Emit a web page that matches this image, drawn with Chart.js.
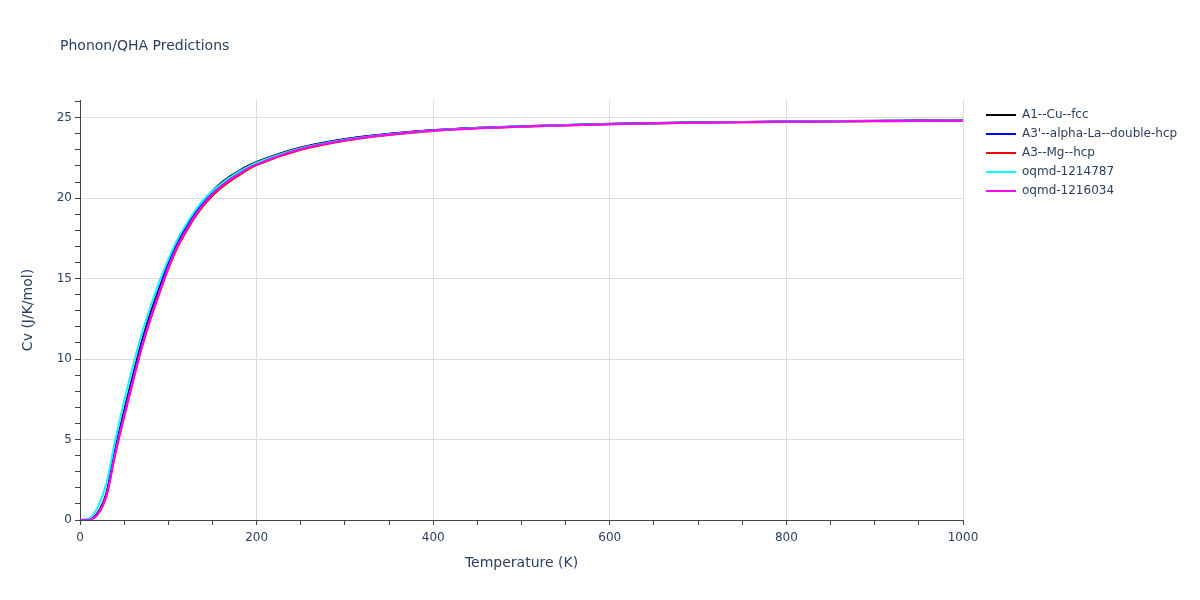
<!DOCTYPE html>
<html>
<head>
<meta charset="utf-8">
<script src="https://cdn.jsdelivr.net/npm/chart.js@4.4.1/dist/chart.umd.min.js"></script>
<style>
  body { margin: 0; background: #fff; }
  #wrap { position: relative; width: 1200px; height: 600px; font-family: "DejaVu Sans", Verdana, sans-serif; color: #2a3f5f; }
  #title { position: absolute; left: 60px; top: 36px; font-size: 14px; line-height: 18px; }
  #legend { position: absolute; left: 986px; top: 105px; font-size: 12px; }
  .item { height: 19px; line-height: 19px; display: flex; align-items: center; }
  .swatch { width: 30px; height: 2px; margin-right: 6px; }
</style>
</head>
<body>
<div id="wrap">
  <canvas id="chart" width="1200" height="600"></canvas>
  <div id="title">Phonon/QHA Predictions</div>
  <div id="legend"></div>
</div>
<script>
var temps = [0, 10, 20, 30, 40, 50, 60, 70, 80, 90, 100, 110, 120, 130, 140, 150, 160, 170, 180, 190, 200,
    250, 300, 350, 400, 450, 500, 550, 600, 650, 700, 750, 800, 850, 900, 950, 1000];

var names = ['A1--Cu--fcc', "A3'--alpha-La--double-hcp", 'A3--Mg--hcp', 'oqmd-1214787', 'oqmd-1216034'];
var colors = ['#000000', '#0000ff', '#ff0000', '#00ffff', '#ff00ff'];

var cuFcc = [0, 0.03, 0.45, 1.7, 4.4, 6.8, 9.0, 11.1, 12.9, 14.45, 15.95, 17.2, 18.2, 19.1, 19.85, 20.45, 20.95, 21.35, 21.7, 22.0, 22.25,
    23.15, 23.68, 24.0, 24.23, 24.37, 24.47, 24.55, 24.62, 24.67, 24.71, 24.74, 24.77, 24.79, 24.81, 24.82, 24.84];
var laDhcp = [0, 0.02, 0.4, 1.6, 4.3, 6.65, 8.85, 10.95, 12.75, 14.35, 15.85, 17.1, 18.1, 19.0, 19.75, 20.35, 20.85, 21.25, 21.6, 21.92, 22.18,
    23.1, 23.65, 23.98, 24.22, 24.36, 24.46, 24.54, 24.61, 24.66, 24.7, 24.73, 24.76, 24.78, 24.8, 24.82, 24.83];
var mgHcp = [0, 0.02, 0.35, 1.5, 4.1, 6.4, 8.6, 10.7, 12.5, 14.1, 15.6, 16.9, 17.9, 18.8, 19.55, 20.15, 20.65, 21.05, 21.42, 21.78, 22.05,
    23.0, 23.57, 23.93, 24.18, 24.34, 24.44, 24.52, 24.59, 24.64, 24.68, 24.71, 24.74, 24.76, 24.78, 24.8, 24.81];
var oqmd1214787 = [0, 0.08, 0.8, 2.3, 5.0, 7.4, 9.6, 11.6, 13.3, 14.85, 16.2, 17.4, 18.35, 19.2, 19.9, 20.45, 20.9, 21.3, 21.65, 21.95, 22.2,
    23.1, 23.63, 23.97, 24.21, 24.36, 24.46, 24.54, 24.61, 24.66, 24.7, 24.73, 24.76, 24.78, 24.8, 24.81, 24.83];
var oqmd1216034 = [0, 0.02, 0.37, 1.55, 4.2, 6.5, 8.7, 10.8, 12.6, 14.2, 15.7, 17.0, 18.0, 18.9, 19.65, 20.25, 20.75, 21.15, 21.5, 21.85, 22.1,
    23.05, 23.6, 23.95, 24.2, 24.35, 24.45, 24.53, 24.6, 24.65, 24.69, 24.72, 24.75, 24.77, 24.79, 24.81, 24.82];

var series = [cuFcc, laDhcp, mgHcp, oqmd1214787, oqmd1216034];

var font = "'DejaVu Sans', Verdana, sans-serif";
var textColor = '#2a3f5f';

var datasets = series.map(function(vals, i) {
    return {
        label: names[i],
        data: vals.map(function(v, j) { return { x: temps[j], y: v }; }),
        borderColor: colors[i],
        backgroundColor: colors[i],
        borderWidth: 2,
        pointRadius: 0,
        cubicInterpolationMode: 'monotone',
        fill: false,
        order: series.length - i   // last trace on top, like the original
    };
});

new Chart(document.getElementById('chart'), {
    type: 'line',
    data: { datasets: datasets },
    options: {
        responsive: false,
        animation: false,
        layout: { padding: { left: 0, top: 100, right: 237, bottom: 0 } },
        plugins: { legend: { display: false }, tooltip: { enabled: false } },
        scales: {
            x: {
                type: 'linear',
                min: 0,
                max: 1000,
                afterFit: function(s) { s.height = 80; },
                border: { color: '#444', width: 1 },
                grid: {
                    color: function(c) { return c.tick && c.tick.value % 200 === 0 && c.tick.value > 0 ? '#dcdcdc' : 'rgba(0,0,0,0)'; },
                    tickColor: '#444',
                    tickLength: 5
                },
                ticks: {
                    stepSize: 50,
                    autoSkip: false,
                    maxRotation: 0,
                    padding: 6,
                    color: textColor,
                    font: { family: font, size: 12 },
                    callback: function(v) { return v % 200 === 0 ? v : ''; }
                },
                title: {
                    display: true,
                    text: 'Temperature (K)',
                    color: textColor,
                    font: { family: font, size: 14 },
                    padding: { top: 0, bottom: 28 }
                }
            },
            y: {
                min: 0,
                max: 26.1,
                afterFit: function(s) { s.width = 80; },
                border: { color: '#444', width: 1 },
                grid: {
                    color: function(c) { return c.tick && c.tick.value % 5 === 0 && c.tick.value > 0 ? '#dcdcdc' : 'rgba(0,0,0,0)'; },
                    tickColor: '#444',
                    tickLength: 5
                },
                ticks: {
                    stepSize: 1,
                    includeBounds: false,
                    autoSkip: false,
                    padding: 3,
                    color: textColor,
                    font: { family: font, size: 12 },
                    callback: function(v) { return v % 5 === 0 ? v : ''; }
                },
                title: {
                    display: true,
                    text: 'Cv (J/K/mol)',
                    color: textColor,
                    font: { family: font, size: 14 },
                    padding: { top: 20, bottom: 0 }
                }
            }
        }
    }
});

var legend = document.getElementById('legend');
names.forEach(function(n, i) {
    var row = document.createElement('div');
    row.className = 'item';
    var sw = document.createElement('span');
    sw.className = 'swatch';
    sw.style.background = colors[i];
    var tx = document.createElement('span');
    tx.textContent = n;
    row.appendChild(sw);
    row.appendChild(tx);
    legend.appendChild(row);
});
</script>
</body>
</html>
